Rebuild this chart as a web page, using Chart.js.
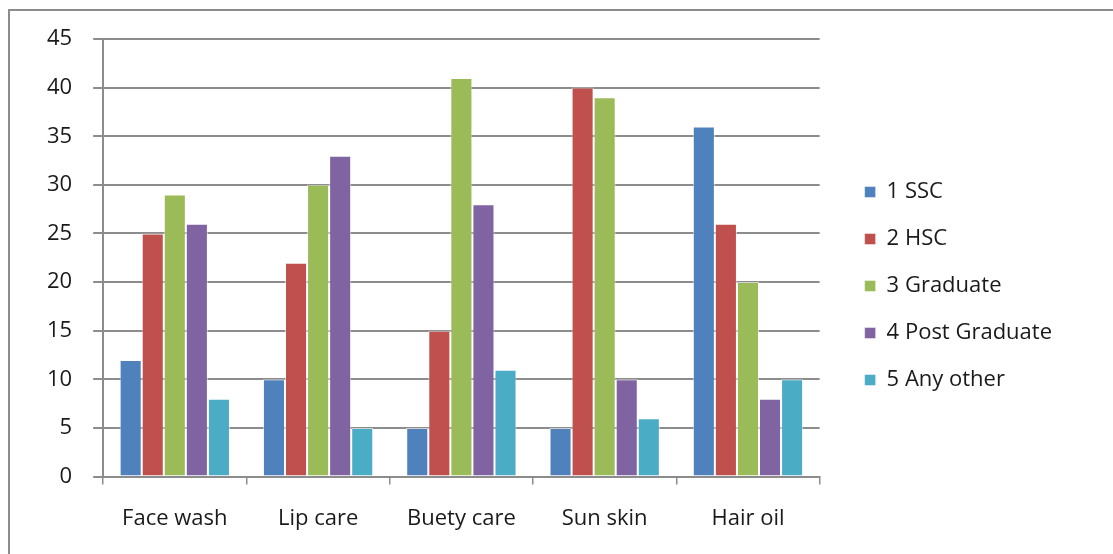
<!DOCTYPE html>
<html>
<head>
<meta charset="utf-8">
<script src="https://cdn.jsdelivr.net/npm/chart.js@4.4.0/dist/chart.umd.min.js"></script>
<style>
  html, body { margin: 0; padding: 0; background: #fff; overflow: hidden; }
  #frame {
    position: absolute; left: 8px; top: 9px; width: 1200px; height: 600px;
    border-left: 2px solid #8c8c8c; border-top: 2px solid #8c8c8c;
  }
  #eduChart { position: absolute; left: 0; top: 0; }
</style>
</head>
<body>
<div id="frame"></div>
<canvas id="eduChart" width="1113" height="554"></canvas>
<script>
var categories = ["Face wash", "Lip care", "Buety care", "Sun skin", "Hair oil"];
var ssc      = [12, 10, 5, 5, 36];
var hsc      = [25, 22, 15, 40, 26];
var graduate = [29, 30, 41, 39, 20];
var postGrad = [26, 33, 28, 10, 8];
var anyOther = [8, 5, 11, 6, 10];
var yTicks   = [0, 5, 10, 15, 20, 25, 30, 35, 40, 45];

var fontFamily = "'Open Sans', 'DejaVu Sans', sans-serif";

function series(label, values, color) {
  return {
    label: label,
    data: values,
    backgroundColor: color,
    borderColor: "rgba(255,255,255,0.6)",
    borderWidth: { top: 1, left: 1, right: 1, bottom: 0 },
    barPercentage: 1,
    categoryPercentage: 0.77
  };
}

// push the legend a bit away from the plot, the way Excel leaves a gap
var legendGap = {
  id: 'legendGap',
  afterInit: function (chart) {
    var lg = chart.legend;
    var fit = lg.fit;
    lg.fit = function () { fit.call(this); this.width += 22; };
  },
  afterLayout: function (chart) {
    var lg = chart.legend;
    lg.left += 20;
    lg.top -= 10;
    lg.bottom -= 10;
  }
};

var eduChart = new Chart(document.getElementById('eduChart'), {
  type: 'bar',
  data: {
    labels: categories,
    datasets: [
      series("1 SSC", ssc, "#4f81bd"),
      series("2 HSC", hsc, "#c0504d"),
      series("3 Graduate", graduate, "#9bbb59"),
      series("4 Post Graduate", postGrad, "#8064a2"),
      series("5 Any other", anyOther, "#4bacc6")
    ]
  },
  plugins: [legendGap],
  options: {
    responsive: false,
    animation: false,
    devicePixelRatio: 1,
    layout: { padding: { left: 26, top: 39, right: 49, bottom: 1 } },
    plugins: {
      tooltip: { enabled: false },
      legend: {
        display: true,
        position: 'right',
        labels: {
          boxWidth: 11,
          boxHeight: 11,
          padding: 25,
          color: '#1a1a1a',
          font: { family: fontFamily, size: 22 }
        }
      }
    },
    scales: {
      x: {
        grid: {
          offset: true,
          drawOnChartArea: false,
          drawTicks: true,
          tickLength: 8,
          color: '#8c8c8c',
          lineWidth: 1.5
        },
        border: { color: '#8c8c8c', width: 2 },
        ticks: { color: '#1a1a1a', padding: 21, font: { family: fontFamily, size: 22 } }
      },
      y: {
        min: 0,
        max: 45,
        afterBuildTicks: function (axis) {
          axis.ticks = yTicks.map(function (v) { return { value: v }; });
        },
        grid: {
          color: '#8c8c8c',
          lineWidth: 2,
          drawTicks: true,
          tickLength: 10
        },
        border: { color: '#8c8c8c', width: 2 },
        ticks: { color: '#1a1a1a', padding: 21, font: { family: fontFamily, size: 22 } }
      }
    }
  }
});
</script>
</body>
</html>
